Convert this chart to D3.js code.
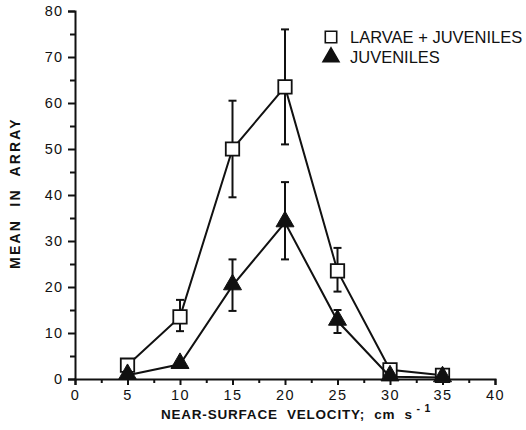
<!DOCTYPE html>
<html>
<head>
<meta charset="utf-8">
<script src="https://cdn.jsdelivr.net/npm/d3@7"></script>
<style>
  body { margin: 0; background: #fff; }
  text { font-family: "Liberation Sans", Arial, sans-serif; fill: #111; }
</style>
</head>
<body>
<svg></svg>
<script>
const size = {w: 526, h: 430};
const margin = {t: 11, r: 31, b: 51, l: 75};
const svg = d3.select('svg').attr('width', size.w).attr('height', size.h);

// velocities (cm/s)
const velocity = [5, 10, 15, 20, 25, 30, 35];
// larvae + juveniles: mean, low, high
const larvMean = [3, 13.5, 50, 63.5, 23.5, 2, 0.8];
const larvLow  = [null, 10.4, 39.5, 51, 19, null, null];
const larvHigh = [null, 17.2, 60.5, 76, 28.5, null, null];
// juveniles
const juvMean = [0.8, 3.2, 20.3, 34, 12.6, 0.5, 0.3];
const juvLow  = [null, null, 14.8, 26, 10, null, null];
const juvHigh = [null, null, 26, 42.8, 15, null, null];

const xTicks = [0, 5, 10, 15, 20, 25, 30, 35, 40];
const yTicks = [0, 10, 20, 30, 40, 50, 60, 70, 80];

const x = d3.scaleLinear().domain([0, 40]).range([margin.l, size.w - margin.r]);
const y = d3.scaleLinear().domain([0, 80]).range([size.h - margin.b, margin.t]);

const axG = svg.append('g');

// y axis with minor ticks at 5
const yAxis = axG.append('g')
    .attr('transform', `translate(${margin.l},0)`)
    .call(d3.axisLeft(y).tickValues(yTicks).tickSize(7).tickPadding(5));
axG.append('g')
    .attr('transform', `translate(${margin.l},0)`)
    .call(d3.axisLeft(y).tickValues(d3.range(5, 80, 10)).tickSize(5).tickFormat(''))
    .select('.domain').remove();

// x axis with minor ticks at 2.5
const xAxis = axG.append('g')
    .attr('transform', `translate(0,${y(0)})`)
    .call(d3.axisBottom(x).tickValues(xTicks).tickSize(6).tickPadding(5));
axG.append('g')
    .attr('transform', `translate(0,${y(0)})`)
    .call(d3.axisBottom(x).tickValues(d3.range(2.5, 40, 5)).tickSize(4).tickFormat(''))
    .select('.domain').remove();

axG.selectAll('.domain').attr('stroke', '#111').attr('stroke-width', 2);
axG.selectAll('.tick line').attr('stroke', '#111').attr('stroke-width', 2);
axG.selectAll('.tick text')
    .style('font-family', '"Liberation Sans", Arial, sans-serif')
    .style('font-size', '14.5px').attr('fill', '#111');
xAxis.selectAll('.tick text').attr('letter-spacing', '1.5px');
yAxis.selectAll('.tick text').attr('letter-spacing', '1px');

// axis titles
svg.append('text')
    .attr('transform', `translate(20,193) rotate(-90)`)
    .attr('text-anchor', 'middle')
    .style('font-size', '14px').style('font-weight', 'bold')
    .attr('letter-spacing', '2.2px')
    .style('white-space', 'pre')
    .text('MEAN  IN  ARRAY');

const xt = svg.append('text')
    .attr('x', 296).attr('y', 419)
    .attr('text-anchor', 'middle')
    .style('font-size', '13.5px').style('font-weight', 'bold')
    .style('white-space', 'pre')
    .attr('letter-spacing', '0.8px');
xt.append('tspan').text('NEAR-SURFACE  VELOCITY;  cm  s');
xt.append('tspan').attr('dy', -7).style('font-size', '10.5px').text(' - 1');

// data rows
function rows(mean, low, high) {
    return velocity.map((v, i) => ({v: v, m: mean[i], lo: low[i], hi: high[i]}));
}
const larv = rows(larvMean, larvLow, larvHigh);
const juv = rows(juvMean, juvLow, juvHigh);

const line = d3.line().x(d => x(d.v)).y(d => y(d.m));
const plotG = svg.append('g');

function drawSeries(data, shape) {
    plotG.append('path').datum(data)
        .attr('d', line).attr('fill', 'none')
        .attr('stroke', '#111').attr('stroke-width', 2);

    const eb = plotG.append('g').selectAll('g')
        .data(data.filter(d => d.lo != null))
        .enter().append('g');
    eb.append('line')
        .attr('x1', d => x(d.v)).attr('x2', d => x(d.v))
        .attr('y1', d => y(d.lo)).attr('y2', d => y(d.hi))
        .attr('stroke', '#111').attr('stroke-width', 2);
    ['lo', 'hi'].forEach(k => {
        eb.append('line')
            .attr('x1', d => x(d.v) - 4).attr('x2', d => x(d.v) + 4)
            .attr('y1', d => y(d[k])).attr('y2', d => y(d[k]))
            .attr('stroke', '#111').attr('stroke-width', 2);
    });

    const sym = d3.symbol().type(shape === 'square' ? d3.symbolSquare : d3.symbolTriangle)
        .size(shape === 'square' ? 180 : 140);
    plotG.append('g').selectAll('path')
        .data(data).enter().append('path')
        .attr('transform', d => `translate(${x(d.v)},${y(d.m) + (shape === 'square' ? 0 : -1)})`)
        .attr('d', sym)
        .attr('fill', shape === 'square' ? '#fff' : '#111')
        .attr('stroke', '#111').attr('stroke-width', shape === 'square' ? 1.8 : 1);
}

drawSeries(larv, 'square');
drawSeries(juv, 'triangle');

// legend
const legend = svg.append('g');
const legItems = [
    {label: 'LARVAE + JUVENILES', shape: d3.symbolSquare, fill: '#fff', sz: 130, yy: 37},
    {label: 'JUVENILES', shape: d3.symbolTriangle, fill: '#111', sz: 110, yy: 57}
];
legItems.forEach(it => {
    legend.append('path')
        .attr('transform', `translate(331,${it.yy})`)
        .attr('d', d3.symbol().type(it.shape).size(it.sz))
        .attr('fill', it.fill).attr('stroke', '#111').attr('stroke-width', 1.6);
    legend.append('text')
        .attr('x', 350).attr('y', it.yy + 6)
        .style('font-size', '16.5px')
        .text(it.label);
});
</script>
</body>
</html>
